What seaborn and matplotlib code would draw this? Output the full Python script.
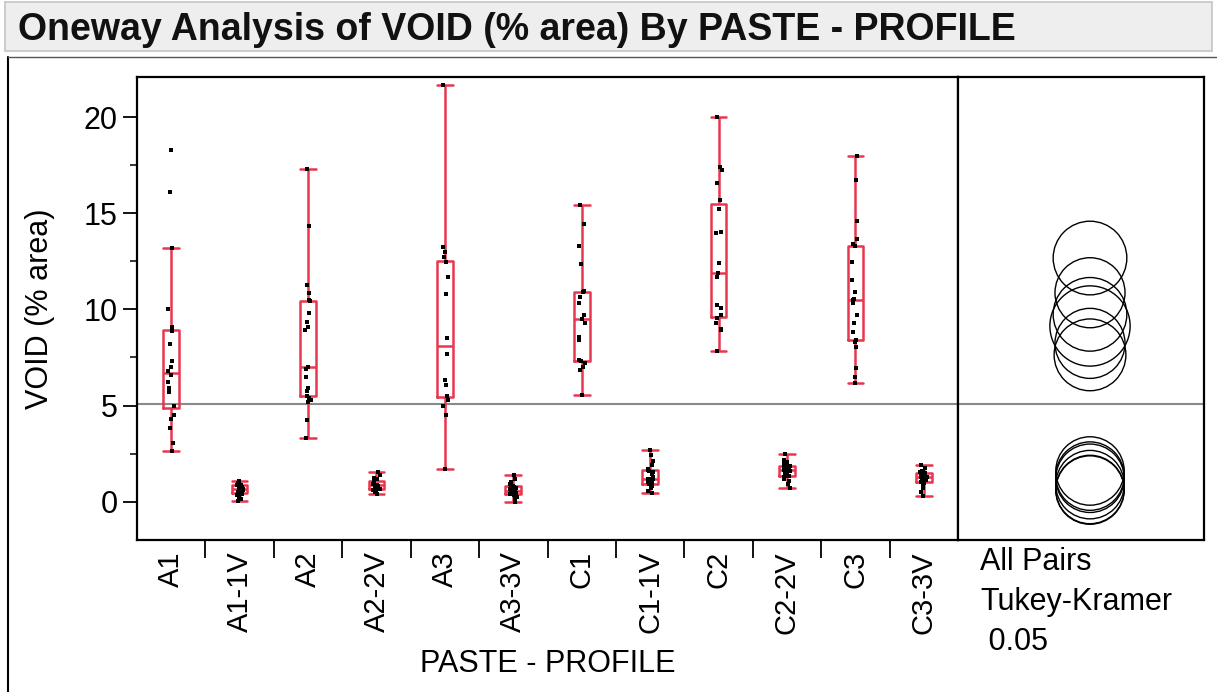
import numpy as np
import pandas as pd
import seaborn as sns
import matplotlib.pyplot as plt
from matplotlib.patches import Circle, Rectangle
from matplotlib.lines import Line2D

# ---------------- data ----------------
groups = ["A1", "A1-1V", "A2", "A2-2V", "A3", "A3-3V",
          "C1", "C1-1V", "C2", "C2-2V", "C3", "C3-3V"]

A1 = [2.65, 3.05, 3.85, 4.3, 4.5, 5.0, 5.7, 5.9, 6.25, 6.6, 6.8, 7.0, 7.3,
      8.2, 8.9, 9.1, 10.05, 13.2, 16.1, 18.3]
A1_1V = [0.05, 0.15, 0.25, 0.35, 0.38, 0.42, 0.45, 0.5, 0.58, 0.62, 0.66, 0.66,
         0.7, 0.75, 0.8, 0.85, 0.86, 0.88, 0.9, 0.95, 1.0, 1.09]
A2 = [3.3, 4.26, 5.2, 5.3, 5.4, 5.47, 5.73, 5.9, 6.5, 6.9, 7.0, 8.94, 9.1,
      9.37, 9.8, 10.44, 10.5, 10.87, 11.27, 14.35, 17.33]
A2_2V = [0.4, 0.48, 0.55, 0.58, 0.62, 0.65, 0.7, 0.75, 0.8, 0.83, 0.85, 0.85,
         0.9, 0.95, 1.0, 1.05, 1.06, 1.08, 1.15, 1.25, 1.4, 1.52]
A3 = [1.71, 4.52, 4.95, 5.3, 5.47, 6.08, 6.34, 7.69, 8.5, 10.8, 11.7, 12.48,
      12.74, 13.0, 13.26, 21.7]
A3_3V = [0.0, 0.12, 0.22, 0.3, 0.36, 0.38, 0.4, 0.45, 0.48, 0.52, 0.55, 0.55,
         0.6, 0.65, 0.72, 0.78, 0.8, 0.82, 0.9, 1.0, 1.2, 1.4]
C1 = [5.56, 6.86, 7.0, 7.2, 7.3, 7.35, 8.42, 8.59, 9.28, 9.49, 9.71, 10.32,
      10.67, 10.9, 10.95, 12.35, 13.3, 14.47, 15.46]
C1_1V = [0.45, 0.55, 0.7, 0.8, 0.85, 0.9, 0.95, 1.0, 1.1, 1.15, 1.2, 1.2,
         1.3, 1.45, 1.55, 1.6, 1.65, 1.7, 1.9, 2.1, 2.4, 2.67]
C2 = [7.84, 8.94, 9.0, 9.3, 9.54, 9.7, 10.1, 10.23, 11.7, 11.9, 12.4, 13.96,
      14.04, 15.25, 15.69, 16.6, 17.25, 17.42, 20.0]
C2_2V = [0.71, 0.9, 1.05, 1.2, 1.3, 1.33, 1.35, 1.42, 1.5, 1.58, 1.63, 1.63,
         1.65, 1.7, 1.78, 1.85, 1.88, 1.9, 1.95, 2.05, 2.18, 2.49]
C3 = [6.17, 6.5, 6.94, 8.07, 8.3, 8.4, 8.85, 9.32, 9.71, 10.32, 10.49, 10.56,
      10.93, 11.53, 12.48, 13.3, 13.4, 13.65, 14.61, 16.76, 18.0]
C3_3V = [0.31, 0.5, 0.7, 0.85, 0.97, 1.0, 1.02, 1.1, 1.15, 1.2, 1.26, 1.26,
         1.3, 1.35, 1.4, 1.48, 1.5, 1.52, 1.55, 1.6, 1.75, 1.92]

series = [A1, A1_1V, A2, A2_2V, A3, A3_3V, C1, C1_1V, C2, C2_2V, C3, C3_3V]

title = "Oneway Analysis of VOID (% area) By PASTE - PROFILE"
ylabel = "VOID (% area)"
xlabel = "PASTE - PROFILE"
side_text = ["All Pairs", "Tukey-Kramer", " 0.05"]
y_ticks = [0, 5, 10, 15, 20]
qstar = 3.29  # Tukey-Kramer q* for alpha 0.05, 12 groups

df = pd.DataFrame({
    "group": np.concatenate([[g] * len(v) for g, v in zip(groups, series)]),
    "void": np.concatenate([np.asarray(v, float) for v in series]),
})

# ---------------- style ----------------
sns.set_theme(style="white")
plt.rcParams["font.family"] = ["Liberation Sans", "DejaVu Sans"]
for k in ["text.color", "axes.labelcolor", "xtick.color", "ytick.color"]:
    plt.rcParams[k] = "black"
RED = "#e8364f"

W, H = 1217, 692
fig = plt.figure(figsize=(W / 100, H / 100), dpi=100)

ax = fig.add_axes([137 / W, 1 - 540 / H, (958 - 137) / W, (540 - 77) / H])
ax2 = fig.add_axes([958 / W, 1 - 540 / H, (1204 - 958) / W, (540 - 77) / H],
                   sharey=ax)

np.random.seed(3)
sns.boxplot(data=df, x="group", y="void", order=groups, ax=ax, fill=False,
            color=RED, linewidth=1.8, width=0.23, whis=1.5, showfliers=False,
            capwidths=0.23)
sns.stripplot(data=df, x="group", y="void", order=groups, ax=ax,
              color="black", marker="s", size=3.2, jitter=0.05, linewidth=0,
              zorder=3)

grand_mean = df["void"].mean()
ax.axhline(grand_mean, color="#8a8a8a", lw=1.5, zorder=1)
ax2.axhline(grand_mean, color="#8a8a8a", lw=1.5, zorder=1)

ymin, ymax = -2.0, 22.1
ax.set_xlim(-0.5, len(groups) - 0.5)
ax.set_ylim(ymin, ymax)
ax.set_yticks(y_ticks)
ax.set_yticks(np.arange(0, 22, 2.5), minor=True)
ax.set_xticks(range(len(groups)))
ax.set_xticks(np.arange(0.5, len(groups) - 1, 1.0), minor=True)
ax.set_xticklabels(groups, rotation=90, va="top", ha="center")
ax.tick_params(axis="y", which="major", direction="out", length=10, width=1.3,
               color="black", labelsize=22, pad=4, left=True,
               labelcolor="black")
ax.tick_params(axis="y", which="minor", direction="out", length=5, width=1.1,
               color="black", left=True)
ax.tick_params(axis="x", which="major", length=0, labelsize=21, pad=8,
               labelcolor="black")
ax.tick_params(axis="x", which="minor", direction="out", length=13, width=1.3,
               color="black", bottom=True)
ax.set_xlabel(xlabel, fontsize=22, color="black")
ax.set_ylabel(ylabel, fontsize=22, color="black")
ax.xaxis.set_label_coords(0.5, -0.235)
ax.yaxis.set_label_coords(-0.1, 0.5)
for s in ax.spines.values():
    s.set_color("black")
    s.set_linewidth(1.6)

# ---------------- comparison circles ----------------
ns = np.array([len(v) for v in series])
means = np.array([np.mean(v) for v in series])
sse = sum(((np.asarray(v) - np.mean(v)) ** 2).sum() for v in series)
mse = sse / (ns.sum() - len(series))
radii = qstar * np.sqrt(mse / ns)

px_per_unit = (540 - 77) / (ymax - ymin)
xspan = (1204 - 958) / px_per_unit
cx_frac = (1090 - 958) / (1204 - 958)
ax2.set_xlim(-xspan * cx_frac, xspan * (1 - cx_frac))
for m, r in zip(means, radii):
    ax2.add_patch(Circle((0, m), r, fill=False, edgecolor="black", lw=1.0))
ax2.tick_params(left=False, bottom=False, labelleft=False, labelbottom=False)
for s in ax2.spines.values():
    s.set_color("black")
    s.set_linewidth(1.6)

for i, t in enumerate(side_text):
    fig.text(980 / W, 1 - (562 + 40 * i) / H, t, fontsize=22, ha="left",
             va="center", color="black")

# ---------------- title bar & frame ----------------
fig.patches.append(Rectangle((0.004, 1 - 51 / H), 0.992, 49 / H,
                             transform=fig.transFigure, facecolor="#eeeeee",
                             edgecolor="#c4c4c4", lw=1.2, zorder=0))
fig.text(18 / W, 1 - 30 / H, title, fontsize=27, fontweight="bold",
         ha="left", va="center", color="#111111")
fig.lines.append(Line2D([8 / W, 8 / W], [0, 1 - 57 / H],
                        transform=fig.transFigure, color="black", lw=1.5))
fig.lines.append(Line2D([8 / W, 1], [1 - 57 / H, 1 - 57 / H],
                        transform=fig.transFigure, color="#555555", lw=1.0))

fig.savefig("out.png", dpi=100)
